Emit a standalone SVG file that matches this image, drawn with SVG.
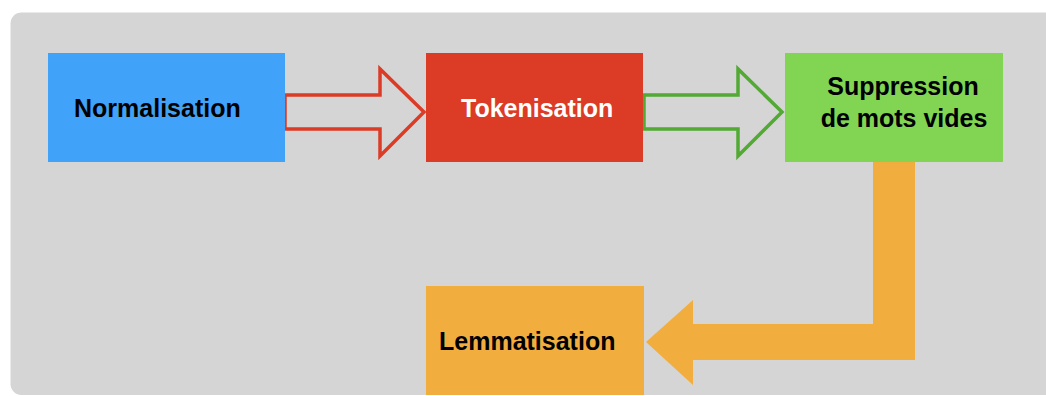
<svg xmlns="http://www.w3.org/2000/svg" width="1046" height="396" viewBox="0 0 1046 396">
  <style>
    .label { font-family: "Liberation Sans", Arial, Helvetica, sans-serif; font-weight: bold; font-size: 25px; fill: #000; }
    .light { fill: #fff; }
  </style>
  <rect width="1046" height="396" fill="#ffffff"/>
  <!-- panel -->
  <rect x="10.5" y="12.5" width="1060" height="382.5" rx="11" fill="#d5d5d5"/>

  <!-- connectors -->
  <g id="connectors">
    <polygon points="285,95 380,95 380,69 424,112 380,156 380,129 285,129" fill="none" stroke="#dc3b26" stroke-width="3.5" stroke-linejoin="miter"/>
    <polygon points="644,95 738,95 738,69 782,112 738,156 738,129 644,129" fill="none" stroke="#52a933" stroke-width="3.5" stroke-linejoin="miter"/>
    <polygon points="873,161 915,161 915,360 693,360 693,385 646,342 693,300 693,324 873,324" fill="#f1ae3f"/>
  </g>

  <g id="normalisation">
    <rect x="48" y="53" width="237" height="109" fill="#41a2f9"/>
    <text class="label" x="74" y="117">Normalisation</text>
  </g>

  <g id="tokenisation">
    <rect x="426" y="53" width="217" height="109" fill="#dc3b26"/>
    <text class="label light" x="461" y="117">Tokenisation</text>
  </g>

  <g id="suppression">
    <rect x="785" y="53" width="218" height="109" fill="#81d553"/>
    <text class="label" x="903" y="95" text-anchor="middle">Suppression</text>
    <text class="label" x="904" y="127" text-anchor="middle">de mots vides</text>
  </g>

  <g id="lemmatisation">
    <rect x="426" y="286" width="218" height="109" fill="#f1ae3f"/>
    <text class="label" x="439" y="350">Lemmatisation</text>
  </g>
</svg>
